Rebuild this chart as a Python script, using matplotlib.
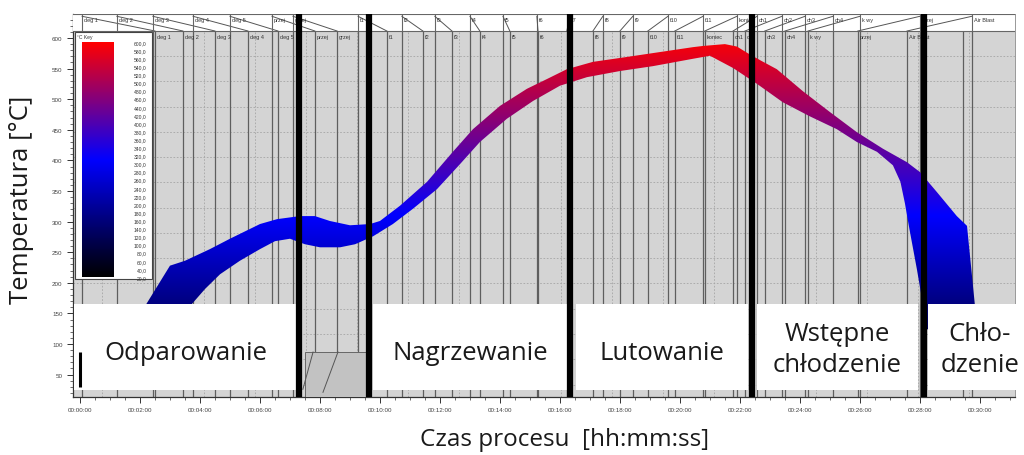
import numpy as np
import matplotlib
matplotlib.use('Agg')
import matplotlib.pyplot as plt
import matplotlib.transforms as mtransforms
from matplotlib.colors import LinearSegmentedColormap, Normalize
from matplotlib.patches import Polygon, Rectangle
from matplotlib.ticker import MultipleLocator, FuncFormatter
from matplotlib.cm import ScalarMappable

# ---------------- data (time in minutes, temperature in deg C) ----------------
upper_time = [1.67, 2.17, 3.0, 3.5, 4.33, 5.0, 6.0, 6.57, 7.33, 7.83, 8.33, 9.0, 9.67, 10.0,
              10.67, 11.57, 12.43, 13.1, 14.0, 14.9, 15.57, 16.23, 17.1, 18.23, 19.33, 20.43,
              20.77, 21.5, 21.9, 22.3, 22.7, 23.23, 24.1, 25.0, 25.9, 26.77, 27.57, 28.0, 28.57,
              29.23, 29.57, 29.83, 29.93]
upper_temp = [124, 162, 228, 236, 255, 272, 296, 304, 309, 309, 301, 294, 296, 301,
              326, 365, 414, 451, 489, 517, 533, 549, 561, 569, 577, 585,
              587, 590, 586, 574, 563, 549, 513, 479, 446, 419, 397, 381, 348,
              309, 293, 165, 124]
lower_time = [3.33, 3.67, 4.17, 4.67, 5.33, 6.0, 6.5, 7.0, 7.5, 8.0, 8.67, 9.17, 9.77, 10.43,
              11.1, 11.9, 12.67, 13.33, 14.23, 15.1, 16.0, 16.9, 18.0, 19.1, 20.43, 21.0,
              21.77, 22.57, 23.43, 24.33, 25.23, 25.9, 26.57, 27.1, 27.35, 27.5, 27.65, 27.9,
              28.1, 28.2]
lower_temp = [124, 162, 190, 214, 236, 255, 268, 272, 263, 258, 258, 263, 276, 296,
              321, 353, 394, 430, 468, 497, 522, 536, 546, 554, 566, 571,
              551, 525, 495, 472, 451, 430, 414, 392, 365, 330, 288, 222,
              165, 124]

zone_names = ['deg 1', 'deg 2', 'deg 3', 'deg 4', 'deg 5', 'przej', 'grzej', 'f1', 'f2', 'f3',
              'f4', 'f5', 'f6', 'f7', 'f8', 'f9', 'f10', 'f11', 'koniec', 'ch1', 'ch2', 'ch3',
              'ch4', 'k wy', 'przej', 'Air Blast']
zone_top_time = [0.07, 1.23, 2.43, 3.77, 5.0, 6.4, 7.1, 9.27, 10.73, 11.83, 13.0, 14.1, 15.23,
                 16.33, 17.43, 18.43, 19.6, 20.77, 21.9, 22.57, 23.4, 24.17, 25.1, 26.0, 28.0,
                 29.73]
zone_bottom_time = [2.5, 3.43, 4.5, 5.6, 6.6, 7.83, 8.57, 10.23, 11.43, 12.4, 13.33, 14.33,
                    15.27, 16.23, 17.1, 18.0, 18.93, 19.83, 20.83, 21.77, 22.17, 22.83, 23.5,
                    24.27, 25.93, 27.57]

phase_names = ['Odparowanie', 'Nagrzewanie', 'Lutowanie', 'Wstępne\nchłodzenie', 'Chło-\ndzenie']
phase_start = [-0.2, 9.77, 16.53, 22.57, 28.27]
phase_end = [7.23, 16.23, 22.27, 27.93, 31.47]
phase_bounds = [7.3, 9.63, 16.33, 22.4, 28.13]

key_ticks = list(range(600, 0, -20))
x_ticks = list(range(0, 31, 2))
y_ticks = list(range(50, 601, 50))

# ---------------- figure ----------------
W, H = 1024, 456
fig = plt.figure(figsize=(W / 100, H / 100), dpi=100)
fig.patch.set_facecolor('white')
ax = fig.add_axes([73 / W, 58 / H, 942 / W, 383 / H])
ax.set_facecolor('#d4d4d4')
XMIN, XMAX, YMIN, YMAX = -0.233, 31.17, 13.4, 639.2

cmap = LinearSegmentedColormap.from_list('key', [(0, '#000000'), (0.5, '#0000ff'), (1, '#ff0000')])
norm = Normalize(20, 600)

# internal dashed grid of the screenshot
for T in np.arange(570.6, 20, -41.3):
    ax.axhline(T, color='#a5a5a5', lw=0.6, ls=(0, (2, 2)), zorder=1)
for t in np.arange(0.733, 31, 1.7):
    ax.axvline(t, ymax=0.955, color='#a5a5a5', lw=0.6, ls=(0, (2, 2)), zorder=1)

row_bot = 1 - 17 / 383
trans = mtransforms.blended_transform_factory(ax.transData, ax.transAxes)

for t in zone_top_time:
    ax.axvline(t, color='#5e5e5e', lw=0.9, zorder=2)
for t in zone_bottom_time + [29.43]:
    ax.axvline(t, ymax=row_bot, color='#5e5e5e', lw=0.9, zorder=2)

# band
verts = np.column_stack([np.r_[upper_time, lower_time[::-1]], np.r_[upper_temp, lower_temp[::-1]]])
poly = Polygon(verts, closed=True, facecolor='none', edgecolor='none')
ax.add_patch(poly)
grad = np.linspace(20, 600, 256).reshape(-1, 1)
im = ax.imshow(grad, extent=[XMIN, XMAX, 20, 600], origin='lower', cmap=cmap, norm=norm,
               aspect='auto', zorder=3, interpolation='bilinear')
im.set_clip_path(poly)

# top label rows
ax.add_patch(Rectangle((0, row_bot), 1, 1 - row_bot, transform=ax.transAxes,
                       facecolor='white', edgecolor='none', zorder=4))
ax.axhline(YMAX, color='#666666', lw=0.8, zorder=5)
ax.plot([0, 1], [row_bot, row_bot], transform=ax.transAxes, color='#666666', lw=0.8, zorder=5)
for name, tt, tb in zip(zone_names, zone_top_time, zone_bottom_time):
    ax.plot([tt, tt], [row_bot, 1], transform=trans, color='#666666', lw=0.8, zorder=5)
    ax.plot([tb, tt], [row_bot, 0.994], transform=trans, color='#555555', lw=0.7, zorder=5)
    ax.text(tt + 0.07, 0.985, name, transform=trans, fontsize=4, color='#333333',
            va='center', ha='left', zorder=6, family='Liberation Sans')
    ax.text(tb + 0.07, 0.94, name, transform=trans, fontsize=4, color='#333333',
            va='center', ha='left', zorder=6, family='Liberation Sans')

# darker box fragment between first two phases
ax.add_patch(Polygon([[7.5, YMIN], [7.5, 86.9], [9.6, 86.9], [9.6, YMIN]], closed=True,
                     facecolor='#c2c2c2', edgecolor='#666666', lw=0.7, zorder=4))
ax.plot([7.43, 7.77], [26, 86.9], color='#555555', lw=0.7, zorder=4)
ax.plot([8.1, 8.6], [21, 86.9], color='#555555', lw=0.7, zorder=4)

# phase boxes
for name, s, e in zip(phase_names, phase_start, phase_end):
    ax.add_patch(Rectangle((s, 24.8), e - s, 165.4 - 24.8, facecolor='white', edgecolor='none',
                           zorder=7, clip_on=False))
    two = '\n' in name
    ax.text((s + e) / 2 if e < 31 else 30.0, 92 if two else 86, name, ha='center', va='center',
            fontsize=18.5, family='Open Sans', color='#1a1a1a', zorder=8, linespacing=1.35,
            clip_on=False)

# thick black phase boundaries
for t in phase_bounds:
    ax.axvline(t, color='black', lw=4.5, zorder=9)
ax.plot([0, 0], [30, 87], color='black', lw=2.2, zorder=9, solid_capstyle='butt')

# axes styling
ax.set_xlim(XMIN, XMAX)
ax.set_ylim(YMIN, YMAX)
ax.set_xticks(x_ticks)
ax.xaxis.set_major_formatter(FuncFormatter(lambda v, p: f"00:{int(v):02d}:00"))
ax.xaxis.set_minor_locator(MultipleLocator(0.5))
ax.set_yticks(y_ticks)
ax.yaxis.set_minor_locator(MultipleLocator(10))
ax.tick_params(axis='both', which='major', labelsize=4.5, labelcolor='#444444', color='#333333',
               length=4, width=0.7)
ax.tick_params(axis='both', which='minor', color='#333333', length=2, width=0.5)
for lab in ax.get_xticklabels() + ax.get_yticklabels():
    lab.set_family('Liberation Sans')
for side in ['top', 'right']:
    ax.spines[side].set_color('#888888')
    ax.spines[side].set_linewidth(0.6)
for side in ['left', 'bottom']:
    ax.spines[side].set_color('#333333')
    ax.spines[side].set_linewidth(0.9)
ax.set_zorder(1)

# colour key
key_box = Rectangle((75 / W, 1 - 280 / H), 77 / W, 247 / H, transform=fig.transFigure,
                    facecolor='white', edgecolor='#444444', lw=0.8, zorder=2)
fig.patches.append(key_box)
fig.text(77 / W, 1 - 37 / H, '°C Key', fontsize=3.6, color='#333333', va='center',
         family='Liberation Sans', zorder=11)
cax = fig.add_axes([82 / W, 1 - 278 / H, 32 / W, 235 / H])
cax.set_zorder(3)
cb = fig.colorbar(ScalarMappable(norm=norm, cmap=cmap), cax=cax)
cb.outline.set_visible(False)
cb.set_ticks(key_ticks)
cb.set_ticklabels([f"{v:.1f}".replace('.', ',') for v in key_ticks])
cax.tick_params(length=0, labelsize=3.6, labelcolor='#333333', pad=23.5)
for lab in cax.get_yticklabels():
    lab.set_ha('right')
    lab.set_family('Liberation Sans')

# axis titles
fig.text(22 / W, 1 - 200 / H, 'Temperatura [°C]', rotation=90, ha='center', va='center',
         fontsize=18.5, family='Open Sans', color='#1a1a1a')
fig.text(565 / W, 1 - 440 / H, 'Czas procesu  [hh:mm:ss]', ha='center', va='center',
         fontsize=17.5, family='Open Sans', color='#1a1a1a')

fig.savefig('out.png', dpi=100, facecolor='white')
